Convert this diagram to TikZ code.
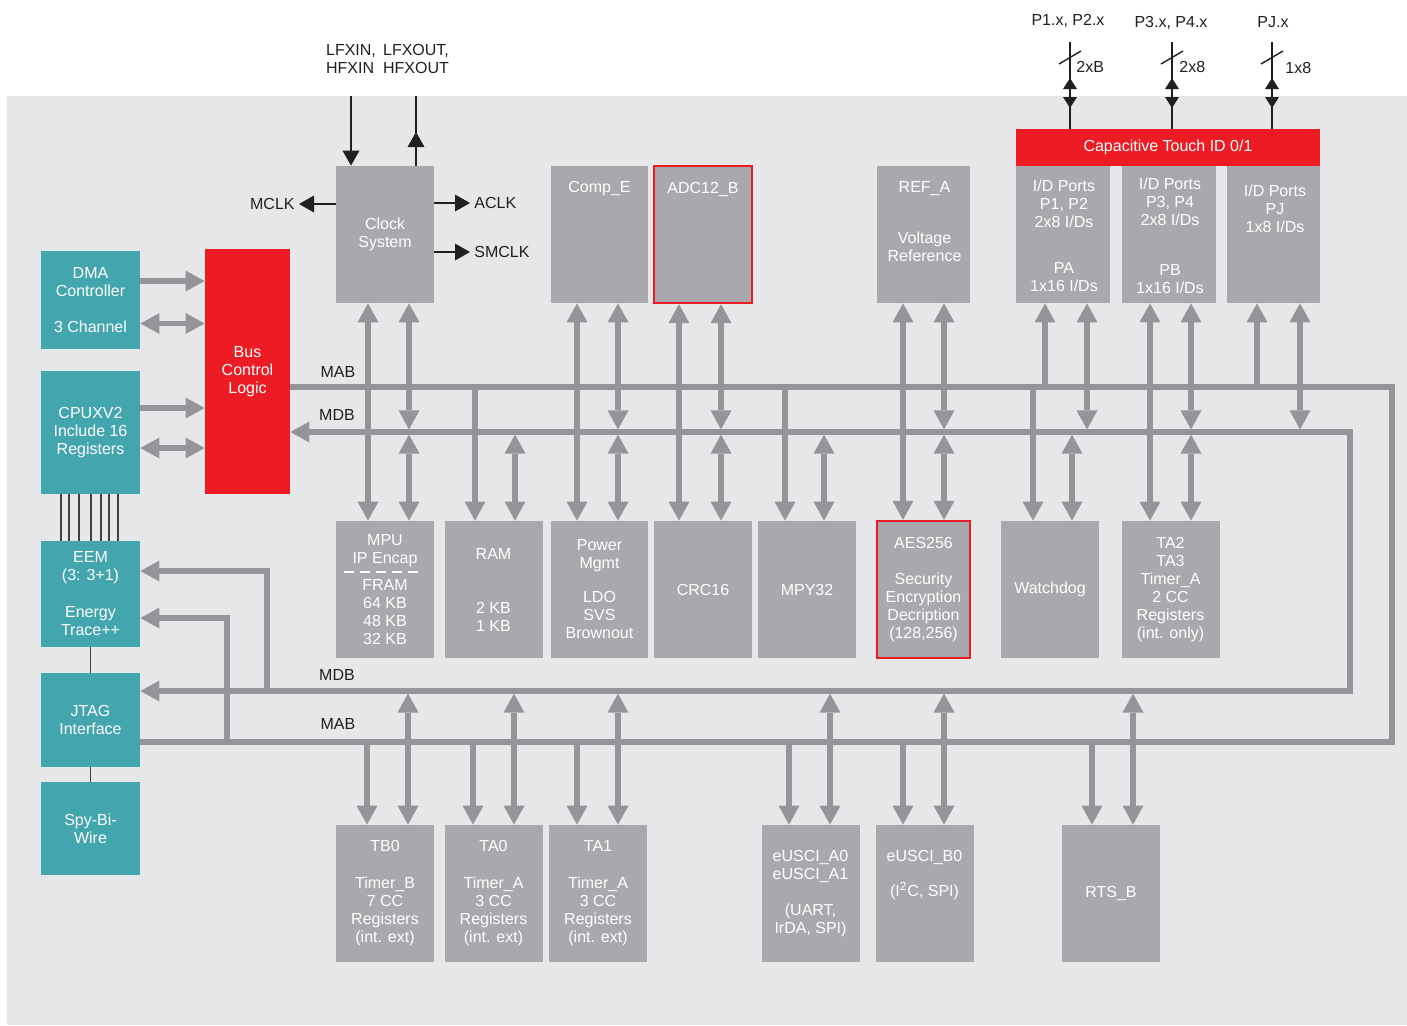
\documentclass[tikz,border=0pt]{standalone}
\usepackage{fontspec}
\setmainfont{Liberation Sans}
\usetikzlibrary{arrows.meta,calc,positioning}

\definecolor{bgGray}{HTML}{E6E7E8}
\definecolor{modGray}{HTML}{A7A9AC}
\definecolor{busGray}{HTML}{939598}
\definecolor{tiTeal}{HTML}{43A5AE}
\definecolor{tiRed}{HTML}{ED1C24}
\definecolor{inkBlack}{HTML}{231F20}
\definecolor{wireGray}{HTML}{414042}

\tikzset{
  mod/.style={fill=modGray, text=white, inner sep=0pt, align=center,
              minimum width=49pt, minimum height=68.5pt},
  dbg/.style={fill=tiTeal, text=white, inner sep=0pt, align=center,
              minimum width=49.5pt},
  hot/.style={draw=tiRed, line width=1.2pt},
  txt/.style={text=white, align=center, inner sep=0pt},
  lbl/.style={text=inkBlack, align=center, inner sep=2pt},
  bus/.style={draw=busGray, line width=2.6pt,
              >={Triangle[width=10.5pt,length=9.5pt,line width=0pt]}},
  sig/.style={draw=inkBlack, line width=0.7pt,
              >={Triangle[width=8.5pt,length=7.5pt,line width=0pt]}},
  port/.style={sig, >={Triangle[width=7pt,length=5.5pt,line width=0pt]}},
  wire/.style={draw=wireGray, line width=0.6pt},
}

\begin{document}
\begin{tikzpicture}[x=0.5pt, y=-0.5pt, font=\fontsize{8}{9}\selectfont]
  \useasboundingbox (0,0) rectangle (1407,1025);
  \fill[white] (0,0) rectangle (1407,1025);
  \fill[bgGray] (7,96) rectangle (1407,1025);

  % CPU side
  \node[dbg, minimum height=49pt] (dma) at (90.5,300) {DMA\\Controller\\[9pt]3 Channel};
  \node[dbg, minimum height=61.5pt] (cpu) at (90.5,432.5) {CPUXV2\\Include 16\\Registers};
  \node[dbg, minimum height=53pt] (eem) at (90.5,594) {EEM\\(3: 3+1)\\[9.5pt]Energy\\Trace++};
  \node[dbg, minimum height=47pt] (jtag) at (90.5,720) {JTAG\\Interface};
  \node[dbg, minimum height=46.5pt] (sbw) at (90.5,828.5) {Spy-Bi-\\Wire};
  \node[fill=tiRed, text=white, inner sep=0pt, align=center, minimum width=42.5pt,
        minimum height=122.5pt] (bcl) at (247.5,371.5) {Bus\\Control\\Logic};

  % top row
  \node[mod] (clk) at (385,234.5) {Clock\\System};
  \node[mod, minimum width=48.5pt] (cmp) at (599.5,234.5) {};
  \node[txt] (cmpt) at (599.5,189) {Comp\_E};
  \node[mod, hot] (adc) at (703,234.5) {};
  \node[txt] (adct) at (703,189) {ADC12\_B};
  \node[mod, minimum width=46.5pt] (ref) at (923.5,234.5) {};
  \node[txt] (reft) at (924.5,222) {REF\_A\\[16.5pt]Voltage\\Reference};
  \node[fill=tiRed, text=white, inner sep=0pt, minimum width=152pt,
        minimum height=18.5pt] (cap) at (1168,147.5) {Capacitive Touch ID 0/1};
  \node[mod, minimum width=47pt] (pa) at (1063,234.5) {};
  \node[txt] (pat) at (1064,235.5) {I/D Ports\\P1, P2\\2x8 I/Ds\\[14pt]PA\\1x16 I/Ds};
  \node[mod, minimum width=47pt] (pb) at (1169,234.5) {};
  \node[txt] (pbt) at (1170,236) {I/D Ports\\P3, P4\\2x8 I/Ds\\[16pt]PB\\1x16 I/Ds};
  \node[mod, minimum width=46.5pt] (pj) at (1273.5,234.5) {};
  \node[txt] (pjt) at (1275,209) {I/D Ports\\PJ\\1x8 I/Ds};

  % middle row
  \node[mod] (mpu) at (385,589.5) {MPU\\IP Encap\\[4.5pt]FRAM\\64 KB\\48 KB\\32 KB};
  \draw[white, line width=1pt, dash pattern=on 5pt off 3pt] (344,572) -- (418,572);
  \node[mod] (ram) at (493.5,589.5) {RAM\\[18pt]2 KB\\1 KB};
  \node[mod, minimum width=48.5pt] (pwr) at (599.5,589.5) {Power\\Mgmt\\[8pt]LDO\\SVS\\Brownout};
  \node[mod] (crc) at (703,589.5) {CRC16};
  \node[mod] (mpy) at (807,589.5) {MPY32};
  \node[mod, hot, minimum width=46.5pt] (aes) at (923.5,589.5) {AES256\\[9pt]Security\\Encryption\\Decription\\(128,256)};
  \node[mod] (wdt) at (1050,589.5) {Watchdog};
  \node[mod] (ta2) at (1170.5,589.5) {TA2\\TA3\\Timer\_A\\2 CC\\Registers\\(int. only)};

  % bottom row
  \node[mod] (tb0) at (385,893.5) {TB0\\[9.5pt]Timer\_B\\7 CC\\Registers\\(int. ext)};
  \node[mod] (ta0) at (493.5,893.5) {TA0\\[9.5pt]Timer\_A\\3 CC\\Registers\\(int. ext)};
  \node[mod] (ta1) at (598,893.5) {TA1\\[9.5pt]Timer\_A\\3 CC\\Registers\\(int. ext)};
  \node[mod] (usa) at (810.5,893.5) {eUSCI\_A0\\eUSCI\_A1\\[9pt](UART,\\IrDA, SPI)};
  \node[mod] (usb) at (924.5,893.5) {};
  \node[txt] (usbt) at (924.5,875) {eUSCI\_B0\\[8.5pt](I\textsuperscript{2}C, SPI)};
  \node[mod] (rts) at (1111,893.5) {RTS\_B};

  % clock signals
  \node[lbl, align=left] (xinl) at (351,59) {LFXIN,\\HFXIN};
  \node[lbl, align=left] (xoutl) at (416,59) {LFXOUT,\\HFXOUT};
  \coordinate (xin) at (351,96);
  \coordinate (xout) at (416,96);
  \draw[sig,->] (xin) -- (xin |- clk.north);
  \draw[sig] (xout |- clk.north) -- (xout);
  \draw[sig,->] (xout |- clk.north) -- ($(xout)+(0,36)$);
  \node[lbl, anchor=east] (mclk) at (299,204) {MCLK};
  \node[lbl, anchor=west] (aclk) at (470,203) {ACLK};
  \node[lbl, anchor=west] (smclk) at (470,252) {SMCLK};
  \draw[sig,->] (clk.west |- mclk.east) -- (mclk.east);
  \draw[sig,->] (clk.east |- aclk.west) -- (aclk.west);
  \draw[sig,->] (clk.east |- smclk.west) -- (smclk.west);

  % port pins
  \node[lbl] (p12l) at (1068,21) {P1.x, P2.x};
  \node[lbl] (p34l) at (1171,23) {P3.x, P4.x};
  \node[lbl] (pjl) at (1273,22) {PJ.x};
  \node[lbl, anchor=west, inner sep=0pt] (p12w) at (1076,67) {2xB};
  \node[lbl, anchor=west, inner sep=0pt] (p34w) at (1179,67) {2x8};
  \node[lbl, anchor=west, inner sep=0pt] (pjw) at (1285,68) {1x8};
  \coordinate (p12) at (1070,42);
  \coordinate (p34) at (1172,42);
  \coordinate (pjx) at (1272,42);
  \foreach \p in {p12,p34,pjx} {
    \draw[sig] (\p) -- (\p |- cap.north);
    \draw[port,<->] ($(\p)+(0,36)$) -- ($(\p)+(0,66)$);
    \draw[sig] ($(\p)+(-11,22)$) -- ($(\p)+(11,9)$);
  }

  % debug wires
  \foreach \x in {61,69,79,91,101,109,118}
    \draw[wire] (cpu.south -| \x,0) -- (eem.north -| \x,0);
  \draw[wire] (eem.south) -- (jtag.north);
  \draw[wire] (jtag.south) -- (sbw.north);

  % masters to bus control
  \draw[bus,->] (dma.east |- 0,281) -- (bcl.west |- 0,281);
  \draw[bus,<->] (dma.east |- 0,323.5) -- (bcl.west |- 0,323.5);
  \draw[bus,->] (cpu.east |- 0,408) -- (bcl.west |- 0,408);
  \draw[bus,<->] (cpu.east |- 0,448) -- (bcl.west |- 0,448);

  % MAB / MDB
  \coordinate (mabR) at (1392,387);
  \coordinate (mabL) at (1392,742);
  \coordinate (mdbR) at (1350,432);
  \coordinate (mdbL) at (1350,691);
  \draw[bus] (bcl.east |- mabR) -- (mabR) -- (mabL) -- (jtag.east |- mabL);
  \draw[bus,<->] (bcl.east |- mdbR) -- (mdbR) -- (mdbL) -- (jtag.east |- mdbL);
  \node[lbl] (mab1) at (338,372) {MAB};
  \node[lbl] (mdb1) at (337,415) {MDB};
  \node[lbl] (mdb2) at (337,675) {MDB};
  \node[lbl] (mab2) at (338,724) {MAB};

  \coordinate (eemA) at (267,571);
  \coordinate (eemB) at (227,618);
  \draw[bus,->] (eemA |- mdbL) -- (eemA) -- (eem.east |- eemA);
  \draw[bus,->] (eemB |- mabL) -- (eemB) -- (eem.east |- eemB);

  % top to middle row
  \foreach \t/\m/\a/\d in {clk/mpu/368/409, cmp/pwr/577/618, adc/crc/679/721,
                           ref/aes/903/944, pb/ta2/1150/1191} {
    \draw[bus,<->] (\t.south -| \a,0) -- (\m.north -| \a,0);
    \draw[bus,<->,shorten >=1.3pt] (\t.south -| \d,0) -- (mdbR -| \d,0);
    \draw[bus,<->,shorten <=1.3pt] (mdbR -| \d,0) -- (\m.north -| \d,0);
  }
  \foreach \m/\a/\d in {ram/475/515, mpy/785/824, wdt/1033/1072} {
    \draw[bus,->] (mabR -| \a,0) -- (\m.north -| \a,0);
    \draw[bus,<->,shorten <=1.3pt] (mdbR -| \d,0) -- (\m.north -| \d,0);
  }
  \foreach \t/\a/\d in {pa/1045/1087, pj/1257/1300} {
    \draw[bus,->] (mabR -| \a,0) -- (\t.south -| \a,0);
    \draw[bus,<->,shorten >=1.3pt] (\t.south -| \d,0) -- (mdbR -| \d,0);
  }

  % bottom row
  \foreach \b/\a/\d in {tb0/367/408, ta0/473/514, ta1/577/618,
                        usa/789/830, usb/903/944, rts/1092/1133} {
    \draw[bus,->] (mabL -| \a,0) -- (\b.north -| \a,0);
    \draw[bus,<->,shorten <=1.3pt] (mdbL -| \d,0) -- (\b.north -| \d,0);
  }
\end{tikzpicture}
\end{document}
